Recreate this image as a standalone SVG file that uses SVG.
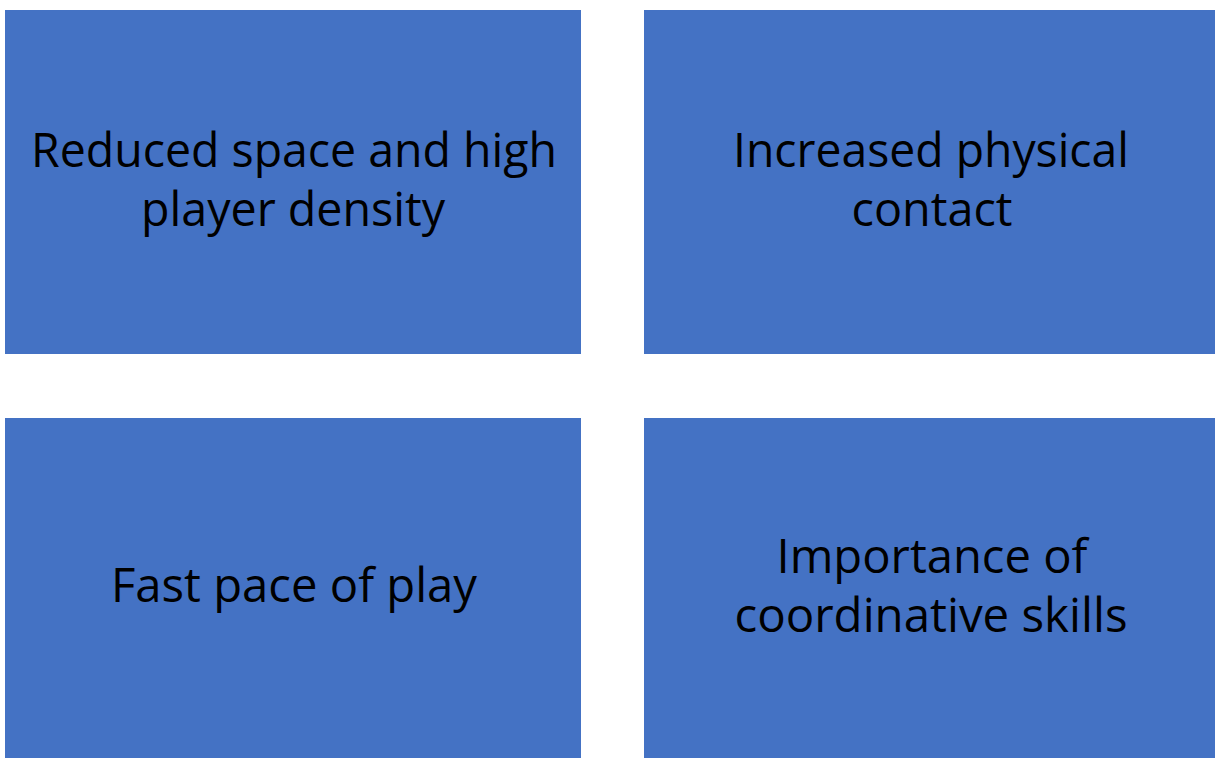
<svg xmlns="http://www.w3.org/2000/svg" width="1215" height="758" viewBox="0 0 1215 758">
  <style>
    .box { fill: #4472C4; }
    .label { font-family: "Open Sans", "Noto Sans", "Liberation Sans", sans-serif; font-size: 47px; fill: #000000; text-anchor: middle; }
  </style>
  <rect width="1215" height="758" fill="#FFFFFF"/>

  <g id="reduced-space">
    <rect class="box" x="5" y="10" width="576" height="344"/>
    <text class="label" x="294" y="167" textLength="526" lengthAdjust="spacingAndGlyphs">Reduced space and high</text>
    <text class="label" x="293" y="226" textLength="304" lengthAdjust="spacingAndGlyphs">player density</text>
  </g>

  <g id="physical-contact">
    <rect class="box" x="644" y="10" width="571" height="344"/>
    <text class="label" x="931" y="167" textLength="396" lengthAdjust="spacingAndGlyphs">Increased physical</text>
    <text class="label" x="932" y="226" textLength="161" lengthAdjust="spacingAndGlyphs">contact</text>
  </g>

  <g id="fast-pace">
    <rect class="box" x="5" y="418" width="576" height="340"/>
    <text class="label" x="294" y="602" textLength="366" lengthAdjust="spacingAndGlyphs">Fast pace of play</text>
  </g>

  <g id="coordinative-skills">
    <rect class="box" x="644" y="418" width="571" height="340"/>
    <text class="label" x="932" y="573" textLength="311" lengthAdjust="spacingAndGlyphs">Importance of</text>
    <text class="label" x="931" y="632" textLength="393" lengthAdjust="spacingAndGlyphs">coordinative skills</text>
  </g>

  <g id="connectors"/>
</svg>
